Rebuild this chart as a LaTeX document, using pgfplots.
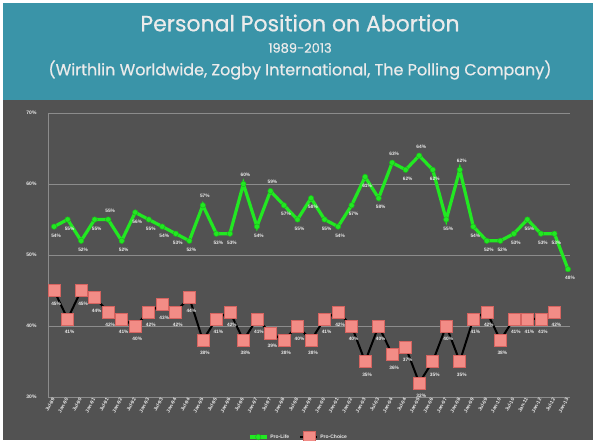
\documentclass[border=0pt]{standalone}
\usepackage{pgfplots}
\pgfplotsset{compat=1.18}
\usepackage{pgfplotstable}
\usepackage{fontspec}
\setmainfont{Liberation Sans}
\newfontfamily\titlefont[FakeBold=0.6]{Poppins}
\definecolor{banner}{RGB}{58,148,168}
\definecolor{bggray}{RGB}{82,82,82}
\definecolor{gridgray}{RGB}{140,140,140}
\definecolor{lifegreen}{RGB}{34,232,34}
\definecolor{sqfill}{RGB}{242,140,134}
\definecolor{sqedge}{RGB}{214,100,96}
\definecolor{labwhite}{RGB}{235,235,235}

\pgfplotstableread{
x y off
1 54 -9
2 55 -9
3 52 -9
4 55 -9
5 55 9
6 52 -9
7 56 -9
8 55 -9
9 54 -9
10 53 -9
11 52 -9
12 57 9
13 53 -9
14 53 -9
15 60 9
16 54 -9
17 59 9
18 57 -9
19 55 -9
20 58 -9
21 55 -9
22 54 -9
23 57 -9
24 61 -9
25 58 -9
26 63 9
27 62 -9
28 64 9
29 62 -9
30 55 -9
31 62 9
32 54 -9
33 52 -9
34 52 -9
35 53 -9
36 55 -9
37 53 -9
38 53 -9
39 48 -9
}\prolife

\pgfplotstableread{
x y off
1 45 -13
2 41 -13
3 45 -13
4 44 -13
5 42 -13
6 41 -13
7 40 -13
8 42 -13
9 43 -13
10 42 -13
11 44 -13
12 38 -13
13 41 -13
14 42 -13
15 38 -13
16 41 -13
17 39 -13
18 38 -13
19 40 -13
20 38 -13
21 41 -13
22 42 -13
23 40 -13
24 35 -13
25 40 -13
26 36 -13
27 37 -13
28 32 -13
29 35 -13
30 40 -13
31 35 -13
32 41 -13
33 42 -13
34 38 -13
35 41 -13
36 41 -13
37 41 -13
38 42 -13
}\prochoice

\begin{document}
\begin{tikzpicture}
\useasboundingbox (0,0) rectangle (600pt,440pt);
\fill[white] (0,0) rectangle (600pt,440pt);
\fill[bggray] (3pt,0) rectangle (593pt,341pt);
\fill[banner] (3pt,340pt) rectangle (593pt,437pt);
\node[text=labwhite, font=\titlefont\fontsize{22}{25}\selectfont] at (300pt,417pt) {Personal Position on Abortion};
\node[text=labwhite, font=\titlefont\fontsize{13}{15}\selectfont] at (300pt,392pt) {1989-2013};
\node[text=labwhite, font=\titlefont\fontsize{16}{18}\selectfont] at (300pt,370pt) {(Wirthlin Worldwide, Zogby International, The Polling Company)};
\begin{axis}[
  at={(48pt,43pt)}, anchor=south west,
  scale only axis, width=522pt, height=284pt,
  xmin=0.55, xmax=39.15, ymin=30, ymax=70,
  axis x line*=bottom, axis y line*=left,
  axis line style={-, draw=gridgray, line width=0.6pt},
  ymajorgrids, grid style={draw=gridgray, line width=0.8pt},
  ytick={30,40,50,60,70},
  yticklabel={\pgfmathprintnumber{\tick}\%},
  /pgf/number format/assume math mode=true,
  yticklabel style={font=\bfseries\fontsize{5}{6}\selectfont, text=labwhite, xshift=-8pt},
  major tick length=0pt,
  xtick={1,...,39},
  xticklabels={Jul-89,Jan-90,Jul-90,Jan-91,Jul-91,Jan-92,Jul-92,Jan-93,Jul-93,Jan-94,Jul-94,Jan-95,Jul-95,Jan-96,Jul-96,Jan-97,Jul-97,Jan-98,Jul-98,Jan-99,Jan-00,Jan-01,Jan-02,Jan-03,Jul-03,Jan-04,Jul-04,Jan-05,Jan-06,Jan-07,Jan-08,Jan-09,Jul-09,Jan-10,Jul-10,Jan-11,Jan-12,Jul-12,Jan-13},
  xticklabel style={font=\bfseries\fontsize{5}{6}\selectfont, text=labwhite, rotate=62, anchor=east, xshift=2pt},
  legend style={at={(0.48,-0.141)}, anchor=center, draw=none, fill=none,
    font=\bfseries\fontsize{5}{6}\selectfont, text=labwhite, legend columns=2,
    /tikz/every even column/.append style={column sep=8pt}},
  legend image post style={mark indices={2}},
  nodes near coords={\pgfmathprintnumber{\pgfplotspointmeta}\%},
  point meta=y,
  visualization depends on={\thisrow{off} \as \off},
  every node near coord/.append style={anchor=center, yshift=\off pt, xshift=2pt,
    font=\bfseries\fontsize{4.8}{5}\selectfont, text=labwhite},
  clip=false,
]
\addplot[lifegreen, line width=3.2pt, mark=*, mark size=2.7pt, mark options={fill=lifegreen, draw=lifegreen!80!black, line width=0.5pt}] table[x=x, y=y] {\prolife};
\addlegendentry{Pro-Life}
\addplot[black, line width=2pt, mark=square*, mark size=6pt, mark options={fill=sqfill, draw=sqedge, line width=0.6pt}] table[x=x, y=y] {\prochoice};
\addlegendentry{Pro-Choice}
\end{axis}
\end{tikzpicture}
\end{document}
